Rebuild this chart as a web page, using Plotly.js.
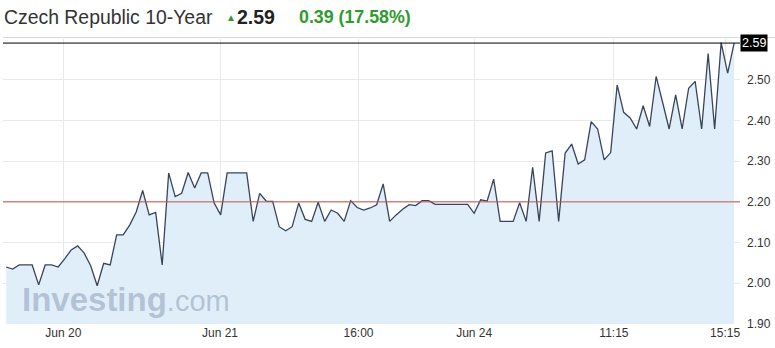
<!DOCTYPE html>
<html>
<head>
<meta charset="utf-8">
<script src="https://cdn.plot.ly/plotly-3.0.1.min.js"></script>
<style>html,body{margin:0;padding:0;background:#fff;}#chart{width:775px;height:348px;}</style>
</head>
<body>
<div id="chart"></div>
<script>
// Yield values, one per 15-minute bar (trading time only)
const yields = [
  2.040, 2.035, 2.045, 2.045, 2.045, 1.996, 2.045, 2.045, 2.040, 2.060,
  2.082, 2.092, 2.074, 2.043, 1.994, 2.049, 2.045, 2.119, 2.119, 2.143,
  2.175, 2.228, 2.168, 2.174, 2.045, 2.271, 2.213, 2.221, 2.272, 2.234,
  2.271, 2.271, 2.197, 2.168, 2.271, 2.271, 2.271, 2.271, 2.152, 2.221,
  2.202, 2.201, 2.139, 2.129, 2.139, 2.197, 2.157, 2.152, 2.199, 2.152,
  2.180, 2.172, 2.152, 2.203, 2.186, 2.180, 2.185, 2.193, 2.244, 2.152,
  2.168, 2.182, 2.193, 2.191, 2.203, 2.203, 2.194, 2.194, 2.194, 2.194,
  2.194, 2.194, 2.172, 2.205, 2.202, 2.256, 2.152, 2.152, 2.152, 2.198,
  2.152, 2.285, 2.152, 2.320, 2.325, 2.152, 2.320, 2.342, 2.293, 2.303,
  2.397, 2.379, 2.303, 2.321, 2.487, 2.420, 2.406, 2.379, 2.436, 2.385,
  2.508, 2.444, 2.379, 2.463, 2.379, 2.479, 2.496, 2.379, 2.564, 2.379,
  2.591, 2.516, 2.590
];
const barIndex = yields.map((_, i) => i);

// X axis tick labels and the bar position where each one falls
const tickLabels = ["Jun 20", "Jun 21", "16:00", "Jun 24", "11:15", "15:15"];
const tickBars = [8.8, 32.9, 54.2, 72, 93.5, 110.6];

// Y axis ticks
const yTicks = [1.90, 2.00, 2.10, 2.20, 2.30, 2.40, 2.50];

const lastValue = 2.59;
const prevClose = 2.20;
const changeText = "0.39 (17.58%)";
const titleText = "Czech Republic 10-Year";

const W = 775, H = 348;
const M = {l: 3, r: 35, t: 39, b: 24};
const pw = W - M.l - M.r, ph = H - M.t - M.b;
const px = p => (p - M.l) / pw;     // pixel -> paper x
const py = p => (H - M.b - p) / ph; // pixel -> paper y

const trace = {
  x: barIndex,
  y: yields,
  type: 'scatter',
  mode: 'lines',
  line: {color: '#3a4458', width: 1.3},
  fill: 'tozeroy',
  fillcolor: '#e0eefa',
  hoverinfo: 'skip'
};

const layout = {
  width: W, height: H,
  margin: M,
  paper_bgcolor: '#ffffff',
  plot_bgcolor: '#ffffff',
  showlegend: false,
  font: {family: 'Liberation Sans, Arial, sans-serif', color: '#333'},
  xaxis: {
    range: [-0.49, 112.9],
    tickvals: tickBars,
    ticktext: tickLabels,
    showgrid: true,
    gridcolor: '#e9e9e9',
    zeroline: false,
    showline: false,
    ticks: '',
    tickfont: {size: 12, color: '#333'},
    fixedrange: true
  },
  yaxis: {
    range: [1.90, 2.60],
    side: 'right',
    tickvals: yTicks,
    ticktext: yTicks.map(v => v.toFixed(2)),
    showgrid: true,
    gridcolor: '#e9e9e9',
    zeroline: false,
    showline: false,
    ticks: '',
    ticklabelstandoff: 6,
    tickfont: {size: 12, color: '#333'},
    fixedrange: true
  },
  shapes: [
    {type: 'line', xref: 'paper', yref: 'paper', x0: 0, x1: 1.05, y0: 1.005, y1: 1.005,
     line: {color: '#d8d8d8', width: 1}},
    {type: 'line', xref: 'paper', yref: 'y', x0: 0, x1: 1, y0: prevClose, y1: prevClose,
     line: {color: '#c0504d', width: 1}},
    {type: 'line', xref: 'paper', yref: 'y', x0: 0, x1: 1, y0: lastValue, y1: lastValue,
     line: {color: '#000000', width: 1}}
  ],
  annotations: [
    {xref: 'paper', yref: 'y', x: 1, y: lastValue, xanchor: 'left', yanchor: 'middle',
     text: lastValue.toFixed(2), showarrow: false, bgcolor: '#000', borderpad: 1,
     font: {size: 12.5, color: '#fff'}},
    {xref: 'paper', yref: 'paper', x: px(2), y: py(17), xanchor: 'left', yanchor: 'middle',
     text: titleText, showarrow: false, font: {size: 19.4, color: '#333'}},
    {xref: 'paper', yref: 'paper', x: px(224), y: py(18), xanchor: 'left', yanchor: 'middle',
     text: '▲', showarrow: false, font: {size: 10, color: '#2e9b2e'}},
    {xref: 'paper', yref: 'paper', x: px(235), y: py(17), xanchor: 'left', yanchor: 'middle',
     text: '<b>' + lastValue.toFixed(2) + '</b>', showarrow: false, font: {size: 19.5, color: '#222'}},
    {xref: 'paper', yref: 'paper', x: px(297), y: py(17), xanchor: 'left', yanchor: 'middle',
     text: '<b>' + changeText + '</b>', showarrow: false, font: {size: 17.8, color: '#2e9b2e'}},
    {xref: 'paper', yref: 'paper', x: px(20), y: py(299), xanchor: 'left', yanchor: 'middle',
     text: '<b>Investing</b><span style="font-size:29px">.com</span>', showarrow: false,
     font: {size: 33, color: 'rgba(140,158,182,0.55)'}}
  ]
};

Plotly.newPlot('chart', [trace], layout, {displayModeBar: false, staticPlot: true});
</script>
</body>
</html>
